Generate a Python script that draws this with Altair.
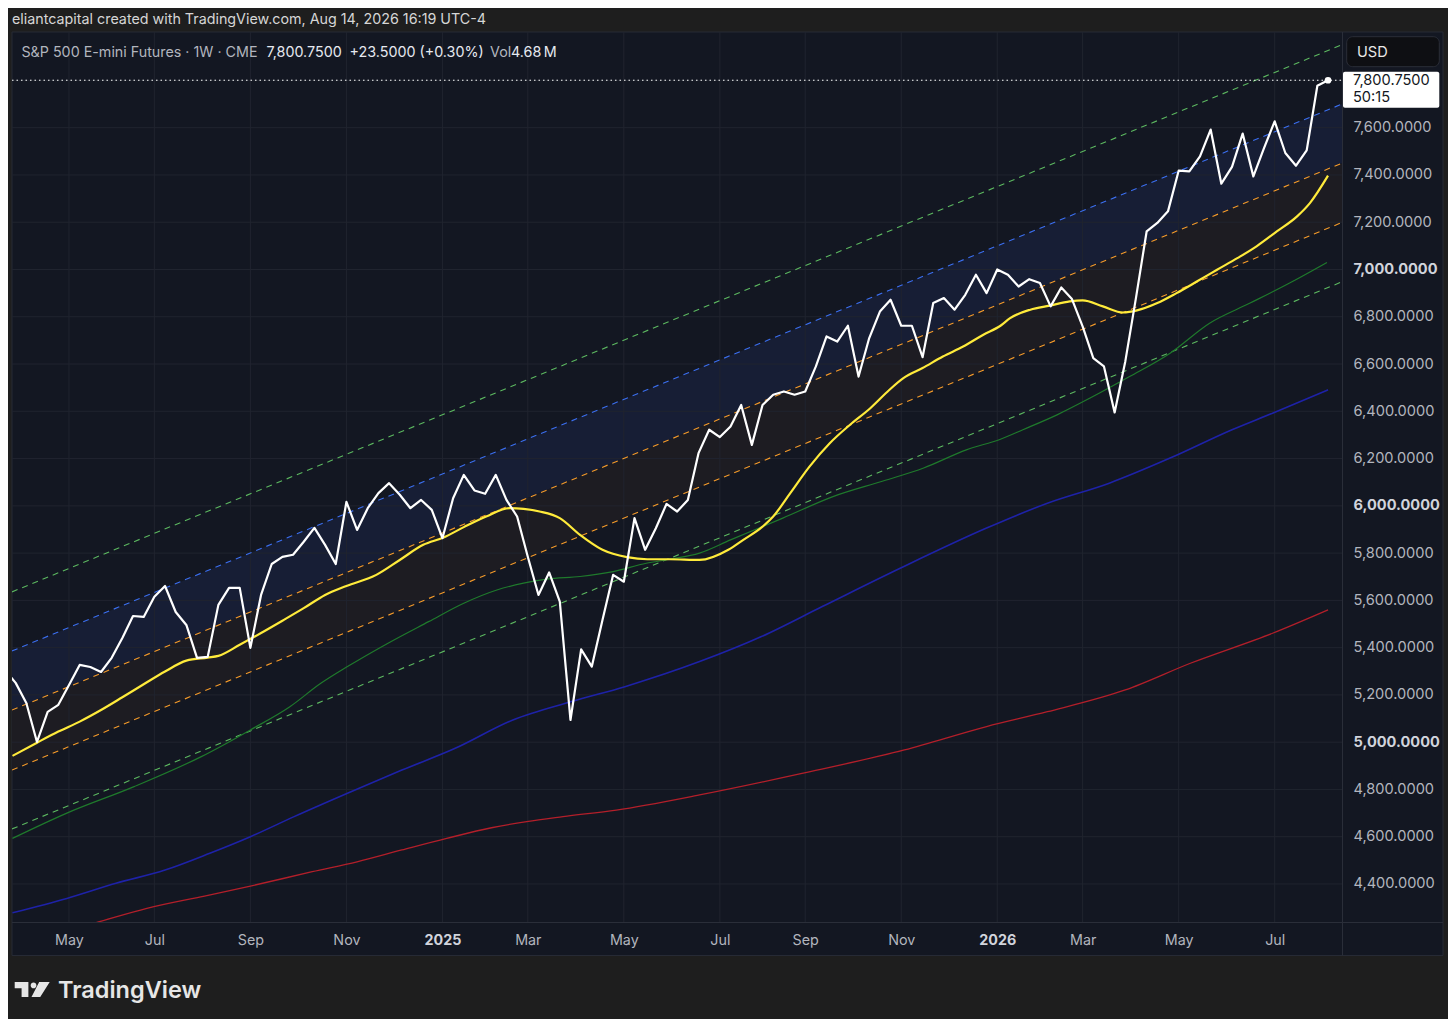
import altair as alt
import pandas as pd

# ---------------------------------------------------------------- data
BASE = pd.Timestamp("2024-05-06")          # first weekly bar of May 2024


def ms(ts):
    return int(pd.Timestamp(ts).value // 1_000_000)


def week_ms(w):
    return ms(BASE + pd.Timedelta(days=7 * w))


credit_text = "eliantcapital created with TradingView.com, Aug 14, 2026 16:19 UTC-4"
symbol_text = "S&P 500 E-mini Futures \u00b7 1W \u00b7 CME"
volume_label = "Vol"
volume_text = "4.68\u2009M"
currency_text = "USD"
countdown_text = "50:15"
brand_text = "TradingView"

# weekly closes, first bar = 6 weeks before BASE (2024-03-25)
price_first_week = -6
price_close = [
    5306, 5251, 5166, 5001, 5128, 5158,
    5242, 5327, 5318, 5297, 5357, 5441, 5534, 5530, 5615, 5661,
    5551, 5496, 5357, 5361, 5581, 5653, 5653, 5399, 5623, 5754,
    5784, 5793, 5848, 5907, 5835, 5754, 6017, 5898, 5990, 6054,
    6096, 6047, 5990, 6025, 5983, 5863, 6032, 6131, 6065, 6051,
    6131, 6025, 5955, 5785, 5623, 5718, 5595, 5094, 5393, 5320,
    5517, 5708, 5679, 5948, 5814, 5905, 6008, 5976, 6025, 6223,
    6322, 6291, 6336, 6427, 6258, 6427, 6470, 6484, 6470, 6484,
    6590, 6717, 6695, 6762, 6547, 6710, 6822, 6872, 6762, 6762,
    6629, 6858, 6879, 6830, 6893, 6978, 6900, 7000, 6978, 6928,
    6959, 6943, 6844, 6924, 6875, 6759, 6625, 6590, 6395, 6611,
    6880, 7161, 7197, 7246, 7418, 7415, 7479, 7592, 7363, 7434,
    7575, 7394, 7514, 7627, 7493, 7439, 7504, 7777.25, 7800.75,
]

# moving averages (week offset from BASE, value)
ma20_week = [-5.3, -3, -1, 1, 3, 5, 7, 9, 11, 13, 14, 16, 18, 20, 22, 24, 26, 28.8,
             31, 33.2, 35.1, 37, 39.1, 41.3, 42.6, 44.1, 46, 47.9, 50, 52.3, 54.2,
             56.3, 59.1, 61.8, 63.2, 65, 66, 67.6, 69.4, 71.3, 73.2, 75.1, 76.9,
             78.2, 80, 81.9, 83.8, 85.7, 87.3, 88.2, 90.1, 91.9, 93.8, 95, 96.9,
             98.8, 100.1, 102, 103.8, 105.7, 107.6, 109.5, 111.3, 113.2, 115.1,
             116.3, 118]
ma20_value = [4942, 4998, 5045, 5087, 5136, 5190, 5245, 5299, 5345, 5358, 5365,
              5412, 5462, 5514, 5567, 5623, 5661, 5708, 5771, 5835, 5866, 5910,
              5955, 5990, 5987, 5976, 5948, 5877, 5814, 5783, 5774, 5774, 5771,
              5814, 5856, 5912, 5955, 6054, 6166, 6265, 6343, 6413, 6491, 6540,
              6583, 6632, 6674, 6724, 6762, 6794, 6830, 6847, 6865, 6869, 6844,
              6818, 6827, 6858, 6900, 6949, 6999, 7048, 7098, 7161, 7225, 7281,
              7397]

ma50_week = [-5.3, -0.2, 6.1, 12.4, 17, 20.7, 23.6, 26.1, 29.9, 33.7, 37, 40.1,
             42.6, 44.8, 47.9, 51, 54.1, 56.3, 59.1, 62, 66.9, 71.6, 76.3, 80.1,
             84.1, 87.3, 89.4, 92.6, 95.7, 99.4, 103.2, 106.9, 110.7, 114.4, 117.9]
ma50_value = [4593, 4700, 4812, 4939, 5052, 5150, 5249, 5320, 5419, 5510, 5588,
              5644, 5673, 5690, 5701, 5722, 5757, 5774, 5800, 5856, 5948, 6039,
              6105, 6160, 6237, 6282, 6322, 6385, 6456, 6547, 6646, 6773, 6858,
              6943, 7030]

ma100_week = [-5.3, -0.2, 4.4, 9, 13.2, 17, 21.1, 26.1, 31.2, 36.2, 41.6, 47.1,
              52.1, 59.1, 64.9, 70.6, 77.9, 86, 91.7, 97.5, 103.2, 109, 112.8, 118]
ma100_value = [4278, 4339, 4403, 4459, 4530, 4600, 4685, 4784, 4882, 4974, 5094,
               5172, 5235, 5341, 5447, 5574, 5736, 5906, 6011, 6096, 6202, 6322,
               6392, 6491]

ma200_week = [-5.3, 2.5, 7.3, 12.7, 17, 22.8, 27, 31.2, 35.4, 39.6, 42.9, 46.3,
              51.3, 59.1, 68.7, 78.3, 86, 91.7, 99, 105.1, 112.8, 118]
ma200_value = [4138, 4236, 4297, 4349, 4391, 4452, 4494, 4544, 4593, 4638, 4664,
               4685, 4713, 4777, 4868, 4967, 5066, 5129, 5221, 5334, 5461, 5560]

# regression channel lines (value at left edge / right edge of the view)
channel_names = ["upper2", "upper1", "upper0", "lower0", "lower1"]
channel_start_value = [5636, 5386, 5136, 4882, 4633]
channel_end_value = [7951, 7700, 7450, 7199, 6948]

# axes
view_weeks = [-5.342, 119.31]
y_domain = [4239.2, 8004.9]
y_tick_values = [4400, 4600, 4800, 5000, 5200, 5400, 5600, 5800, 6000, 6200,
                 6400, 6600, 6800, 7000, 7200, 7400, 7600]
y_grid_values = y_tick_values + [7800]
x_tick_dates = ["2024-05-06", "2024-07-01", "2024-09-02", "2024-11-04",
                "2025-01-06", "2025-03-03", "2025-05-05", "2025-07-07",
                "2025-09-01", "2025-11-03", "2026-01-05", "2026-03-02",
                "2026-05-04", "2026-07-06"]
x_tick_labels = ["May", "Jul", "Sep", "Nov", "2025", "Mar", "May", "Jul", "Sep",
                 "Nov", "2026", "Mar", "May", "Jul"]

# ---------------------------------------------------------------- styles
BG = "#1e1e1e"
PANEL = "#131722"
GRID = "#20242f"
SEP = "#2a2e39"
BLUE_FILL = "#171e35"
ORANGE_FILL = "#1d1c22"
channel_colors = ["#5cb860", "#3b6ff0", "#f59b2a", "#f59b2a", "#5cb860"]
FONT = "Inter"
W, H = 1330, 890

# ---------------------------------------------------------------- frames
last = price_close[-1]
prev = price_close[-2]
chg = last - prev
last_text = f"{last:,.4f}"
change_text = f"{chg:+,.4f} ({chg / prev * 100:+.2f}%)"

price_df = pd.DataFrame({
    "t": [week_ms(price_first_week + i) for i in range(len(price_close))],
    "v": price_close,
})


def ma_df(weeks, values):
    return pd.DataFrame({"t": [week_ms(w) for w in weeks], "v": values})


t0, t1 = week_ms(view_weeks[0]), week_ms(view_weeks[1])
chan_rows = []
for n, a, b in zip(channel_names, channel_start_value, channel_end_value):
    chan_rows.append({"name": n, "t": t0, "v": a})
    chan_rows.append({"name": n, "t": t1, "v": b})
chan_df = pd.DataFrame(chan_rows)
band_df = pd.DataFrame({
    "t": [t0, t1],
    "blue": [channel_start_value[1], channel_end_value[1]],
    "oup": [channel_start_value[2], channel_end_value[2]],
    "olo": [channel_start_value[3], channel_end_value[3]],
})
tick_ms = [ms(d) for d in x_tick_dates]
one = pd.DataFrame({"k": [0]})

label_expr = ("[" + ",".join(f"'{l}'" for l in x_tick_labels) + "][indexof(["
              + ",".join(str(m) for m in tick_ms) + "], +datum.value)]")

xscale = alt.Scale(type="utc", domain=[t0, t1])
yscale = alt.Scale(domain=y_domain, nice=False, zero=False)
xaxis = alt.Axis(
    orient="bottom", values=tick_ms, labelExpr=label_expr, ticks=False, tickSize=0,
    domain=False, grid=False, labelPadding=18, labelBaseline="middle",
    labelFont=FONT, labelFontSize=14.3, labelFlush=False, labelOverlap=False,
    labelColor={"condition": {"test": "utcmonth(datum.value) == 0", "value": "#d1d4dc"},
                "value": "#b2b5be"},
    labelFontWeight={"condition": {"test": "utcmonth(datum.value) == 0", "value": "bold"},
                     "value": "normal"},
    zindex=1, title=None,
)
yaxis = alt.Axis(
    orient="right", values=y_tick_values, format=",.4f", ticks=False, tickSize=0,
    domain=False, grid=False, labelPadding=11, labelAlign="left",
    labelFont=FONT, labelFontSize=14.6, labelOverlap=False,
    labelColor={"condition": {"test": "datum.value % 1000 == 0", "value": "#d1d4dc"},
                "value": "#b2b5be"},
    labelFontWeight={"condition": {"test": "datum.value % 1000 == 0", "value": "bold"},
                     "value": "normal"},
    zindex=1, title=None,
)


def X(f="t"):
    return alt.X(f"{f}:T", scale=xscale, axis=xaxis)


def Y(f="v"):
    return alt.Y(f"{f}:Q", scale=yscale, axis=yaxis)


def txt(s, x, y, color, size=14.3, weight="normal", align="left", baseline="middle"):
    return alt.Chart(one).mark_text(
        align=align, baseline=baseline, font=FONT, fontSize=size,
        fontWeight=weight, color=color,
    ).encode(x=alt.value(x), y=alt.value(y), text=alt.value(s))


LOGO = ("M -1 -0.424 L -0.218 -0.424 L -0.218 0.424 L -0.606 0.424 L -0.606 -0.071 "
        "L -1 -0.071 Z "
        "M -0.089 -0.235 A 0.165 0.165 0 1 0 0.241 -0.235 A 0.165 0.165 0 1 0 -0.089 -0.235 Z "
        "M 0.4 -0.424 L 1 -0.424 L 0.459 0.424 L -0.041 0.424 Z")

layers = [
    alt.Chart(one).mark_rect(fill=PANEL, stroke="#262a35", strokeWidth=1).encode(
        x=alt.value(0), x2=alt.value(1431), y=alt.value(0), y2=alt.value(923.5)),
    alt.Chart(band_df).mark_area(color=BLUE_FILL, opacity=1).encode(
        x=X(), y=Y("blue"), y2="oup:Q"),
    alt.Chart(band_df).mark_area(color=ORANGE_FILL, opacity=1).encode(
        x=X(), y=Y("oup"), y2="olo:Q"),
    alt.Chart(pd.DataFrame({"v": y_grid_values})).mark_rule(color=GRID, strokeWidth=1).encode(
        y=Y(), x=alt.value(0), x2=alt.value(W)),
    alt.Chart(pd.DataFrame({"t": tick_ms})).mark_rule(color=GRID, strokeWidth=1).encode(
        x=X(), y=alt.value(0), y2=alt.value(H)),
    alt.Chart(one).mark_rule(color=SEP, strokeWidth=1).encode(
        x=alt.value(W + 0.5), y=alt.value(0), y2=alt.value(923.5)),
    alt.Chart(one).mark_rule(color=SEP, strokeWidth=1).encode(
        x=alt.value(0), x2=alt.value(1431), y=alt.value(H + 0.5)),
    alt.Chart(chan_df).mark_line(strokeDash=[6, 5], strokeWidth=1.1, clip=True).encode(
        x=X(), y=Y(), detail="name:N",
        color=alt.Color("name:N", scale=alt.Scale(domain=channel_names, range=channel_colors),
                        legend=None)),
    alt.Chart(ma_df(ma200_week, ma200_value)).mark_line(
        color="#b31f2a", strokeWidth=1.3, interpolate="monotone", clip=True).encode(x=X(), y=Y()),
    alt.Chart(ma_df(ma100_week, ma100_value)).mark_line(
        color="#1e22a8", strokeWidth=1.6, interpolate="monotone", clip=True).encode(x=X(), y=Y()),
    alt.Chart(ma_df(ma50_week, ma50_value)).mark_line(
        color="#1f7a2c", strokeWidth=1.2, interpolate="monotone", clip=True).encode(x=X(), y=Y()),
    alt.Chart(ma_df(ma20_week, ma20_value)).mark_line(
        color="#ffeb3b", strokeWidth=2.2, interpolate="monotone", clip=True).encode(x=X(), y=Y()),
    alt.Chart(pd.DataFrame({"v": [last]})).mark_rule(
        color="#ffffff", strokeDash=[1.5, 3], strokeWidth=1).encode(
        y=Y(), x=alt.value(0), x2=alt.value(W)),
    alt.Chart(price_df).mark_line(
        color="#ffffff", strokeWidth=2.2, strokeJoin="round", clip=True).encode(x=X(), y=Y()),
    alt.Chart(price_df.tail(1)).mark_point(
        filled=True, color="#ffffff", size=45, opacity=1).encode(x=X(), y=Y()),
    # currency box
    alt.Chart(one).mark_rect(fill="#0e0f13", stroke="#2b2e38", strokeWidth=1, cornerRadius=6).encode(
        x=alt.value(1334.7), x2=alt.value(1427.3), y=alt.value(4.7), y2=alt.value(34.7)),
    txt(currency_text, 1345, 20.5, "#e8e8e8", size=14.6),
    # last price label
    alt.Chart(one).mark_rect(fill="#ffffff", cornerRadius=2).encode(
        x=alt.value(1331), x2=alt.value(1427.3), y=alt.value(39.7), y2=alt.value(75.7)),
    alt.Chart(pd.DataFrame({"v": [last], "label": [last_text]})).mark_text(
        align="left", baseline="middle", font=FONT, fontSize=14.6, color="#131722", dy=1).encode(
        x=alt.value(1341), y=Y(), text="label:N"),
    txt(countdown_text, 1341, 65.5, "#131722", size=14.6),
    # header texts
    txt(credit_text, 0, -12, "#d6d6d6"),
    txt(symbol_text, 9.4, 21, "#b2b5be"),
    txt(last_text, 254.5, 21, "#e6e9f0"),
    txt(change_text, 337.6, 21, "#e6e9f0"),
    txt(volume_label, 478, 21, "#b2b5be"),
    txt(volume_text, 499, 21, "#e6e9f0"),
    # brand
    alt.Chart(one).mark_point(shape=LOGO, filled=True, color="#e6e6e6", size=35 * 35,
                              strokeWidth=0, opacity=1).encode(
        x=alt.value(20.2), y=alt.value(957.5)),
    txt(brand_text, 46, 965.5, "#e6e6e6", size=23.5, weight=600, baseline="alphabetic"),
]

chart = alt.layer(*layers).properties(
    width=W, height=H,
    padding={"left": 4, "top": 24, "right": 106, "bottom": 97},
    autosize=alt.AutoSizeParams(type="none"),
    background=BG,
).configure_view(stroke="transparent")

chart.save("out.html", embed_options={"renderer": "svg", "actions": False})
